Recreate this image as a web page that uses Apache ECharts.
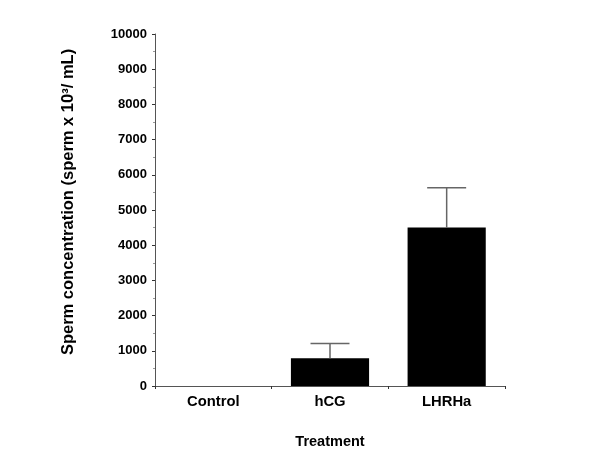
<!DOCTYPE html>
<html>
<head>
<meta charset="utf-8">
<script src="https://cdn.jsdelivr.net/npm/echarts@6/dist/echarts.min.js"></script>
<style>
  html, body { margin: 0; padding: 0; background: #fff; }
  #chart { width: 600px; height: 476px; }
</style>
</head>
<body>
<div id="chart"></div>
<script>
// 数据
var categories = ['Control', 'hCG', 'LHRHa'];
var meanValues = [0, 790, 4500];
var upperValues = [0, 1210, 5630];   // 误差线顶端 (mean + SE)
var yTicks = [0, 10000, 1000];       // min, max, interval

var font = 'Liberation Sans, Arial, Helvetica, sans-serif';

var chart = echarts.init(document.getElementById('chart'));

chart.setOption({
  backgroundColor: '#fff',
  animation: false,
  grid: {
    left: 155,
    right: 95,
    top: 34,
    bottom: 90
  },
  xAxis: {
    type: 'category',
    data: categories,
    name: 'Treatment',
    nameLocation: 'middle',
    nameGap: 48,
    nameTextStyle: {
      color: '#000',
      fontFamily: font,
      fontWeight: 'bold',
      fontSize: 14.5
    },
    axisLine: { lineStyle: { color: '#555', width: 1 } },
    axisTick: { show: true, length: 3, lineStyle: { color: '#333' } },
    axisLabel: {
      color: '#000',
      fontFamily: font,
      fontWeight: 'bold',
      fontSize: 14.8,
      margin: 8
    }
  },
  yAxis: {
    type: 'value',
    min: yTicks[0],
    max: yTicks[1],
    interval: yTicks[2],
    name: 'Sperm concentration (sperm x 10³/ mL)',
    nameLocation: 'middle',
    nameRotate: 90,
    nameGap: 78,
    nameTextStyle: {
      color: '#000',
      fontFamily: font,
      fontWeight: 'bold',
      fontSize: 16.5,
      padding: [0, 0, 0, 16]
    },
    axisLine: { show: true, lineStyle: { color: '#555', width: 1 } },
    axisTick: { show: true, length: 3, lineStyle: { color: '#333' } },
    minorTick: { show: true, splitNumber: 2, length: 2, lineStyle: { color: '#999' } },
    splitLine: { show: false },
    axisLabel: {
      color: '#000',
      fontFamily: font,
      fontWeight: 'bold',
      fontSize: 13,
      margin: 8,
      formatter: function (v) { return String(v); }
    }
  },
  series: [
    {
      type: 'bar',
      data: meanValues,
      barWidth: '67%',
      itemStyle: { color: '#000' },
      z: 2
    },
    {
      type: 'custom',
      data: categories.map(function (c, i) { return [i, meanValues[i], upperValues[i]]; }),
      renderItem: function (params, api) {
        if (api.value(2) <= api.value(1)) return null;
        var low = api.coord([api.value(0), api.value(1)]);
        var high = api.coord([api.value(0), api.value(2)]);
        var half = api.size([1, 0])[0] * 0.167;
        var style = { stroke: '#666', lineWidth: 1.5 };
        return {
          type: 'group',
          children: [
            { type: 'line', shape: { x1: low[0], y1: low[1], x2: high[0], y2: high[1] }, style: style },
            { type: 'line', shape: { x1: high[0] - half, y1: high[1], x2: high[0] + half, y2: high[1] }, style: style }
          ]
        };
      },
      z: 3
    }
  ]
});
</script>
</body>
</html>
